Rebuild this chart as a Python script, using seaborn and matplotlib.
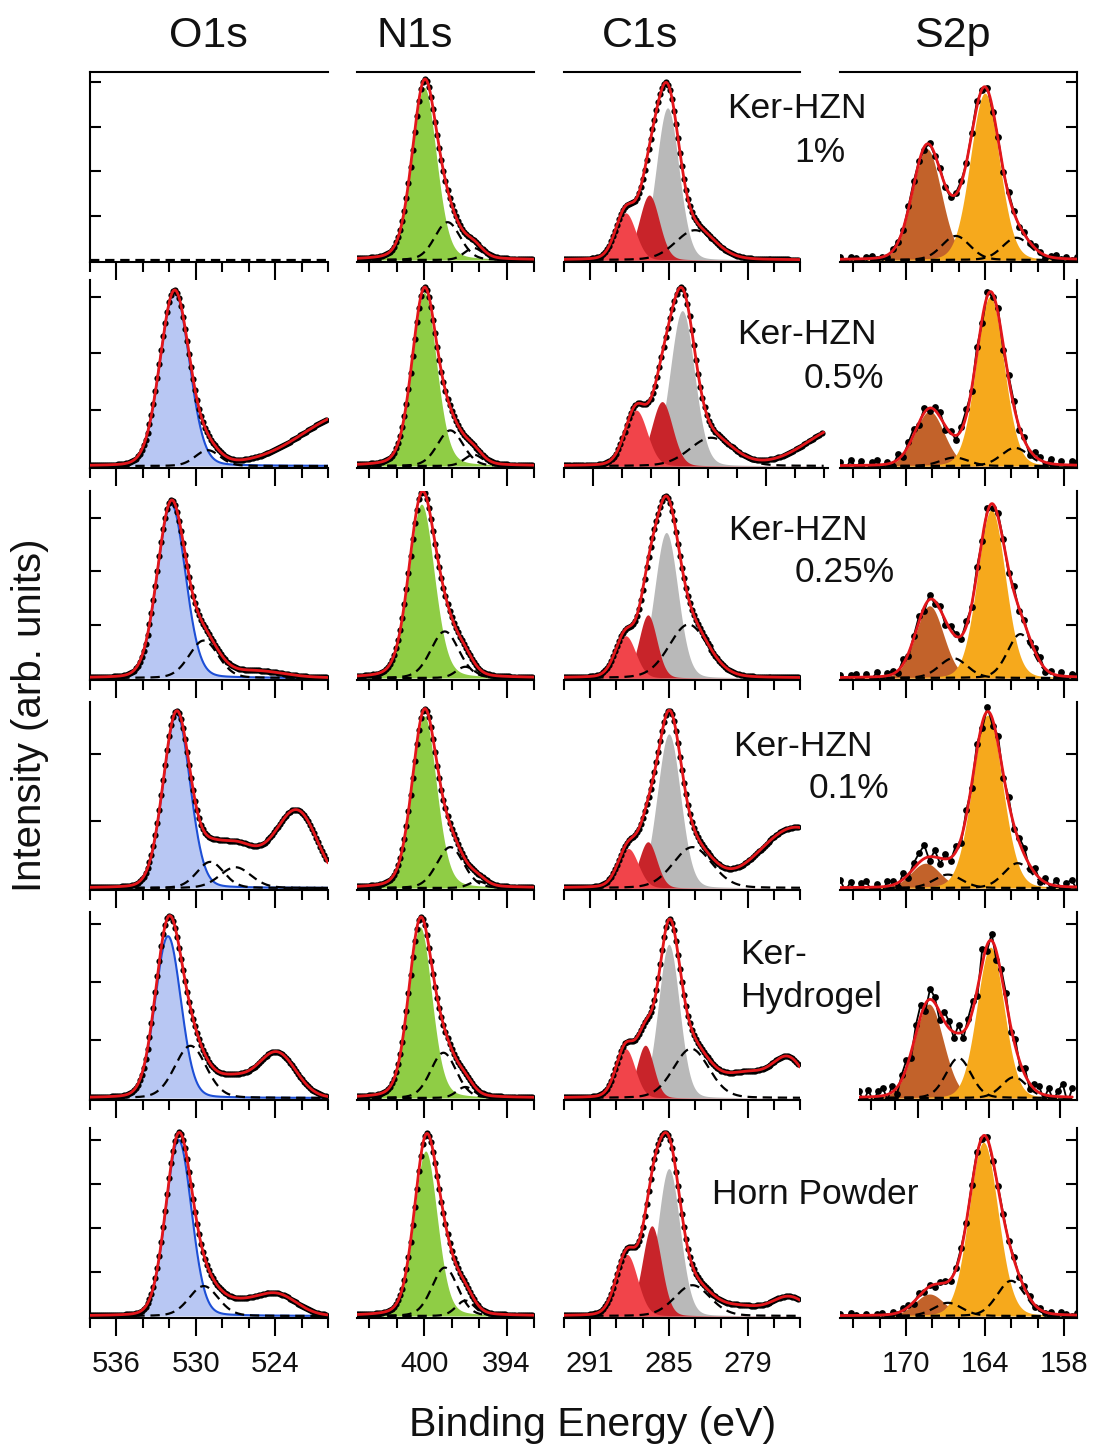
import numpy as np
import matplotlib
matplotlib.use("Agg")
import matplotlib.pyplot as plt
import seaborn as sns

sns.set_theme(style="white")
plt.rcParams['font.family'] = ['Liberation Sans', 'DejaVu Sans']

# ------------------------------------------------------------------ data
COLUMNS = ["O1s", "N1s", "C1s", "S2p"]
SAMPLES = [["Ker-HZN", "1%"], ["Ker-HZN", "0.5%"], ["Ker-HZN", "0.25%"],
           ["Ker-HZN", "0.1%"], ["Ker-", "Hydrogel"], ["Horn Powder"]]

X_RANGE = {"O1s": (538, 520), "N1s": (404.9, 392), "C1s": (293, 275), "S2p": (175, 157)}
X_MAJOR = {"O1s": [536, 530, 524], "N1s": [400, 394], "C1s": [291, 285, 279], "S2p": [170, 164, 158]}
X_MINOR = {"O1s": [538, 534, 532, 528, 526, 522, 520], "N1s": [404, 402, 398, 396, 392],
           "C1s": [293, 289, 287, 283, 281, 277, 275], "S2p": [174, 172, 168, 166, 162, 160]}

# peak components per row: centre (eV), height (arb.), FWHM (eV), kind
O1S_CENTER = [[], [531.6, 529.1, 518.0], [531.85, 529.4, 525.5],
              [531.45, 528.9, 527.0, 525.0, 522.2], [532.1, 530.4, 527.3, 523.9],
              [531.3, 529.4, 527.0, 523.9]]
O1S_HEIGHT = [[], [3.1, 0.28, 0.95], [3.25, 0.7, 0.12],
              [2.6, 0.39, 0.31, 0.4, 0.93], [2.79, 0.9, 0.3, 0.78],
              [4.0, 0.68, 0.25, 0.48]]
O1S_FWHM = [[], [2.6, 2.2, 9.0], [2.5, 2.6, 5.0],
            [2.4, 2.4, 2.8, 6.0, 3.5], [2.3, 2.8, 3.0, 3.4],
            [2.3, 2.6, 3.5, 3.6]]
O1S_KIND = [[], ["o", "dash", "hid"], ["o", "dash", "hid"],
            ["o", "dash", "dash", "hid", "hid"], ["o", "dash", "hid", "hid"],
            ["o", "dash", "hid", "hid"]]

N1S_CENTER = [[400.0, 398.3, 396.4], [400.0, 398.1, 396.4], [400.2, 398.5, 397.0],
              [400.0, 398.1, 396.1], [400.3, 398.6, 397.0], [399.9, 398.5, 397.0]]
N1S_HEIGHT = [[3.88, 0.85, 0.27], [3.07, 0.63, 0.2], [3.25, 0.87, 0.21],
              [2.57, 0.61, 0.1], [2.95, 0.78, 0.19], [3.75, 1.1, 0.35]]
N1S_FWHM = [[2.1, 2.2, 1.6], [2.1, 2.2, 1.6], [2.2, 2.4, 1.6],
            [2.1, 2.3, 1.5], [2.0, 2.2, 1.5], [2.0, 2.2, 1.6]]
N1S_KIND = [["n", "dash", "dash"]] * 6

# C1s components listed grey, dark red, light red, dashed, hidden
C1S_CENTER = [[285.1, 286.5, 288.3, 283.0],
              [284.8, 286.2, 288.0, 282.8, 273.5],
              [285.2, 286.6, 288.3, 283.5],
              [285.0, 286.6, 288.1, 283.2, 275.3],
              [285.0, 286.8, 288.3, 283.3, 279.0, 275.8],
              [285.0, 286.3, 288.2, 283.2, 279.5, 275.8]]
C1S_HEIGHT = [[3.42, 1.46, 1.06, 0.67],
              [2.75, 1.14, 0.99, 0.5, 0.7],
              [2.72, 1.18, 0.79, 1.0],
              [2.3, 0.69, 0.59, 0.61, 0.9],
              [2.65, 0.91, 0.85, 0.85, 0.42, 0.6],
              [3.35, 2.05, 1.4, 0.7, 0.2, 0.42]]
C1S_FWHM = [[2.05, 1.8, 1.8, 3.5],
            [2.0, 1.7, 1.8, 3.5, 6.0],
            [2.1, 1.6, 1.8, 3.5],
            [2.1, 1.6, 1.8, 3.5, 6.5],
            [1.9, 1.5, 1.7, 3.2, 4.5, 2.8],
            [2.0, 1.7, 1.9, 3.2, 4.0, 3.0]]
C1S_KIND = [["c3", "c2", "c1", "dash"], ["c3", "c2", "c1", "dash", "hid"],
            ["c3", "c2", "c1", "dash"], ["c3", "c2", "c1", "dash", "hid"],
            ["c3", "c2", "c1", "dash", "hid", "hid"], ["c3", "c2", "c1", "dash", "hid", "hid"]]

S2P_CENTER = [[168.4, 164.0, 166.2, 161.6], [168.2, 163.6, 166.3, 161.7],
              [168.2, 163.5, 166.4, 161.3], [168.5, 163.8, 166.8, 161.5],
              [169.1, 163.9, 166.6, 161.9], [168.2, 164.1, 166.8, 162.0]]
S2P_HEIGHT = [[2.5, 3.75, 0.54, 0.5], [0.97, 3.0, 0.15, 0.32],
              [1.35, 3.15, 0.37, 0.82], [0.37, 2.58, 0.2, 0.37],
              [1.62, 2.6, 0.69, 0.36], [0.5, 3.95, 0.3, 0.8]]
S2P_FWHM = [[2.6, 2.6, 2.5, 2.5], [2.6, 2.5, 2.5, 2.5], [2.5, 2.5, 2.5, 2.3],
            [2.6, 2.7, 2.5, 2.5], [2.9, 2.7, 2.5, 2.5], [2.6, 2.6, 2.5, 2.5]]
S2P_KIND = [["s1", "s2", "dash", "dash"]] * 6

# read-off scatter of the S2p data points about the fit (arb. units), 175 -> 157 eV
S2P_RESID = [
    [0.04, -0.03, 0.05, 0.02, -0.04, 0.03, 0.06, -0.02, 0.01, -0.05, 0.03, 0.02, -0.04, 0.05, 0.08, 0.02,
     -0.06, 0.04, -0.03, 0.05, -0.04, -0.06, 0.03, 0.05, -0.02, 0.04, 0.12, -0.03, 0.05, -0.06, 0.04, -0.05,
     0.06, 0.03, -0.04, 0.05, -0.03, 0.04, 0.02, -0.05, 0.03, 0.06, -0.02, 0.04, -0.03, 0.05],
    [0.06, -0.08, 0.1, -0.04, 0.07, -0.09, 0.05, 0.08, -0.06, 0.04, -0.07, 0.09, -0.05, 0.06, 0.1, -0.04,
     0.08, -0.06, 0.05, 0.09, -0.07, 0.04, -0.08, 0.06, 0.1, -0.05, 0.12, -0.08, 0.07, -0.06, 0.09, -0.1,
     0.05, 0.08, -0.07, 0.06, -0.09, 0.08, 0.05, -0.06, 0.09, -0.07, 0.06, -0.08, 0.07, 0.05],
    [0.05, -0.06, 0.04, 0.07, -0.05, 0.06, -0.04, 0.08, -0.07, 0.05, 0.06, -0.05, 0.09, -0.06, 0.04, 0.1,
     -0.07, 0.08, -0.05, 0.06, -0.08, 0.07, 0.05, -0.06, 0.09, -0.05, 0.11, -0.04, 0.07, -0.08, 0.06, 0.05,
     -0.07, 0.09, -0.05, 0.06, -0.07, 0.05, 0.08, -0.06, 0.04, -0.05, 0.07, -0.06, 0.05, 0.04],
    [0.12, -0.05, 0.08, -0.07, 0.06, 0.09, -0.06, 0.05, -0.08, 0.07, 0.06, -0.07, 0.09, -0.05, 0.08, 0.14,
     0.2, -0.06, 0.1, -0.08, 0.07, -0.05, 0.09, -0.07, 0.08, -0.06, 0.1, -0.08, 0.07, -0.09, 0.12, -0.06,
     0.08, -0.07, 0.06, 0.1, -0.06, 0.08, -0.05, 0.07, -0.06, 0.09, -0.05, 0.06, 0.1, -0.04],
    [0.1, -0.08, 0.12, -0.1, 0.09, 0.14, -0.09, 0.11, -0.12, 0.08, 0.13, -0.1, 0.15, 0.2, -0.12, 0.18,
     0.1, -0.14, 0.16, 0.12, -0.1, 0.14, -0.12, 0.1, 0.15, -0.13, 0.25, -0.1, 0.12, -0.15, 0.1, 0.14,
     -0.11, 0.13, -0.09, 0.12, -0.1, 0.08, 0.11, -0.09, 0.13, -0.08, 0.1, 0.22, -0.1, 0.15],
    [0.03, -0.04, 0.05, 0.02, -0.03, 0.04, -0.05, 0.03, 0.05, -0.02, 0.04, -0.03, 0.05, 0.03, -0.04, 0.06,
     -0.03, 0.04, -0.05, 0.03, 0.05, -0.04, 0.03, 0.06, -0.03, 0.05, 0.08, -0.04, 0.06, -0.05, 0.04, 0.05,
     -0.03, 0.06, -0.04, 0.03, 0.05, -0.04, 0.03, -0.02, 0.04, -0.03, 0.05, 0.02, -0.03, 0.04],
]

PARAMS = {"O1s": (O1S_CENTER, O1S_HEIGHT, O1S_FWHM, O1S_KIND),
          "N1s": (N1S_CENTER, N1S_HEIGHT, N1S_FWHM, N1S_KIND),
          "C1s": (C1S_CENTER, C1S_HEIGHT, C1S_FWHM, C1S_KIND),
          "S2p": (S2P_CENTER, S2P_HEIGHT, S2P_FWHM, S2P_KIND)}

# ------------------------------------------------------------------ style / layout
W, H = 1096, 1448
FILL = {"o": "#b8c7f3", "n": "#8fcd45", "c1": "#f1444a", "c2": "#c8242a",
        "c3": "#b9b9b9", "s1": "#c2622a", "s2": "#f6a91c"}
ETA = {"o": 0.1, "n": 0.2, "c1": 0.1, "c2": 0.1, "c3": 0.1, "s1": 0.1, "s2": 0.1,
       "dash": 0.15, "hid": 0.0}
RED = "#e3161b"
BLUE = "#1d4fd6"
COL_X = [(90, 328), (357, 534), (564, 800), (840, 1077)]
ROW_Y = [(72, 262), (280, 468), (491, 680), (702, 890), (912, 1100), (1128, 1318)]
ROW_UNIT = [44.5, 56.5, 53.5, 67.0, 58.0, 44.0]
ROW_NTICK = [4, 3, 3, 2, 3, 4]
POS_OVERRIDE = {(1, 2): ((564, 828), (293, 274.7)), (4, 3): ((859, 1077), (175, 156.6))}


def pv(x, c, h, w, eta):
    g = np.exp(-4 * np.log(2) * (x - c) ** 2 / w ** 2)
    lo = 1.0 / (1.0 + 4 * (x - c) ** 2 / w ** 2)
    return h * ((1 - eta) * g + eta * lo)


fig = plt.figure(figsize=(W / 100, H / 100), dpi=100)
fig.patch.set_facecolor("white")

for r in range(6):
    y0, y1 = ROW_Y[r]
    u = ROW_UNIT[r]
    for c, name in enumerate(COLUMNS):
        (x0, x1), xr = COL_X[c], X_RANGE[name]
        if (r, c) in POS_OVERRIDE:
            (x0, x1), xr = POS_OVERRIDE[(r, c)]
        ax = fig.add_axes([x0 / W, 1 - y1 / H, (x1 - x0) / W, (y1 - y0) / H])
        ax.set_facecolor("none")
        cen, hei, fw, kd = [p[r] for p in PARAMS[name]]

        x = np.linspace(X_RANGE[name][0], X_RANGE[name][1], 800)
        comps = [pv(x, cc, hh, ww, ETA[k]) for cc, hh, ww, k in zip(cen, hei, fw, kd)]
        total = np.sum(comps, axis=0) if comps else np.zeros_like(x)

        for k, yc in zip(kd, comps):
            if k in FILL:
                ax.fill_between(x, 0, yc, color=FILL[k], lw=0, zorder=1)
                if k == "o":
                    sns.lineplot(x=x, y=yc, ax=ax, color=BLUE, lw=1.5, sort=False,
                                 estimator=None, zorder=2)
        dash_list = [yc for k, yc in zip(kd, comps) if k == "dash"]
        if not comps:
            dash_list = [np.zeros_like(x)]
        for yc in dash_list:
            sns.lineplot(x=x, y=yc, ax=ax, color="black", lw=1.6, sort=False, estimator=None,
                         linestyle=(0, (4.2, 2.6)), zorder=3)

        if comps:
            if name == "S2p":
                res = np.array(S2P_RESID[r])
                xd = np.linspace(X_RANGE[name][0], X_RANGE[name][1], len(res))
                yd = np.sum([pv(xd, cc, hh, ww, ETA[k]) for cc, hh, ww, k in zip(cen, hei, fw, kd)], axis=0) + res
                sns.lineplot(x=xd, y=yd, ax=ax, color="black", lw=1.3, sort=False, estimator=None, zorder=4)
                sns.scatterplot(x=xd, y=yd, ax=ax, color="black", s=24, linewidth=0, zorder=4, legend=False)
            else:
                xd = np.arange(X_RANGE[name][0], X_RANGE[name][1], -0.15)
                yd = np.sum([pv(xd, cc, hh, ww, ETA[k]) for cc, hh, ww, k in zip(cen, hei, fw, kd)], axis=0)
                sns.scatterplot(x=xd, y=yd, ax=ax, color="black", s=20, linewidth=0, zorder=4, legend=False)
            sns.lineplot(x=x, y=total, ax=ax, color=RED, lw=2.0, sort=False, estimator=None, zorder=5)

        ax.set_xlim(*xr)
        ax.set_ylim(-2.0 / u, -2.0 / u + (y1 - y0) / u)
        ax.set_xlabel("")
        ax.set_ylabel("")
        ax.set_xticks(X_MAJOR[name])
        ax.set_xticks(X_MINOR[name], minor=True)
        if r == 5:
            ax.set_xticklabels([str(v) for v in X_MAJOR[name]], fontsize=21)
        else:
            ax.set_xticklabels([])
        ax.tick_params(axis="x", which="major", direction="out", length=13, width=1.5,
                       bottom=True, top=False, color="black", pad=10, labelcolor="#111111")
        ax.tick_params(axis="x", which="minor", direction="out", length=7, width=1.5,
                       bottom=True, top=False, color="black")
        ax.set_yticks(list(range(1, ROW_NTICK[r] + 1)))
        ax.set_yticklabels([])
        ax.tick_params(axis="y", which="both", direction="in", length=8, width=1.5, color="black",
                       left=(c == 0), right=(c == 3), labelleft=False, labelright=False)
        for side in ["top", "bottom", "left", "right"]:
            ax.spines[side].set_color("black")
            ax.spines[side].set_linewidth(1.5)
        ax.spines["top"].set_visible(r == 0)
        ax.spines["left"].set_visible(c == 0)
        ax.spines["right"].set_visible(c == 3)
        ax.grid(False)


def ftext(px, py, s, size, **kw):
    fig.text(px / W, 1 - py / H, s, fontsize=size, va="center", color="#111111", **kw)


for name, px in zip(COLUMNS, [208, 415, 640, 952]):
    ftext(px, 36, name, 31, ha="center")

LABEL_POS = [[(727, 108, "left"), (845, 152, "right")],
             [(737, 335, "left"), (884, 378, "right")],
             [(728, 530, "left"), (895, 573, "right")],
             [(733, 747, "left"), (889, 789, "right")],
             [(740, 954, "left"), (740, 997, "left")],
             [(815, 1195, "center")]]
for lines, poss in zip(SAMPLES, LABEL_POS):
    for s, (px, py, ha) in zip(lines, poss):
        ftext(px, py, s, 25.5, ha=ha)

ftext(30, 715, "Intensity (arb. units)", 29, ha="center", rotation=90)
ftext(593, 1425, "Binding Energy (eV)", 29.5, ha="center")

fig.savefig("out.png", dpi=100, facecolor="white")
